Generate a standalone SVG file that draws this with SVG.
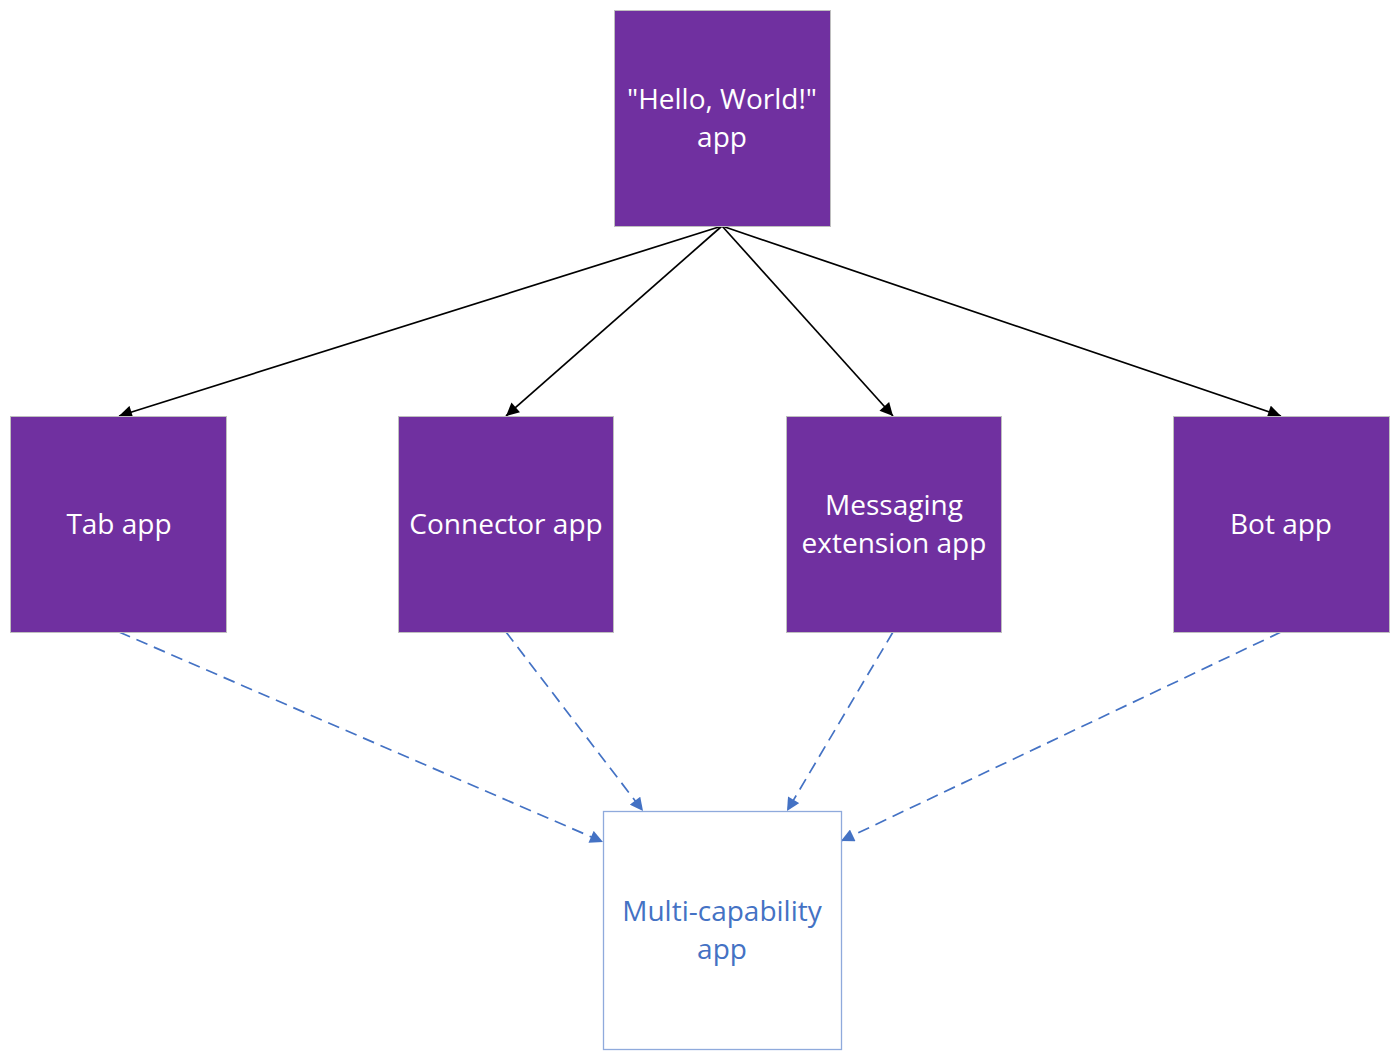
<svg xmlns="http://www.w3.org/2000/svg" width="1400" height="1060" viewBox="0 0 1400 1060">
<style>
.node{fill:#7030a0;stroke:#bfbfbf;stroke-width:1}
.lbl{font-family:"Open Sans","Liberation Sans",sans-serif;font-size:28px;fill:#ffffff;text-anchor:middle}
.blbl{font-family:"Open Sans","Liberation Sans",sans-serif;font-size:28px;fill:#4472c4;text-anchor:middle}
.solid{stroke:#000;stroke-width:1.7;fill:none;marker-end:url(#ah)}
.dash{stroke:#4472c4;stroke-width:1.7;fill:none;stroke-dasharray:12 7;marker-end:url(#bh)}
</style>
<defs>
<marker id="ah" viewBox="0 0 10 10" refX="10" refY="5" markerWidth="14" markerHeight="13" markerUnits="userSpaceOnUse" orient="auto"><path d="M0,0 L10,5 L0,10 z" fill="#000"/></marker>
<marker id="bh" viewBox="0 0 10 10" refX="10" refY="5" markerWidth="14" markerHeight="13" markerUnits="userSpaceOnUse" orient="auto"><path d="M0,0 L10,5 L0,10 z" fill="#4472c4"/></marker>
</defs>
<rect width="1400" height="1060" fill="#ffffff"/>
<g id="connectors">
<line class="solid" x1="722" y1="226" x2="119" y2="416"/>
<line class="solid" x1="722" y1="226" x2="506" y2="416"/>
<line class="solid" x1="722" y1="226" x2="893" y2="416"/>
<line class="solid" x1="722" y1="226" x2="1281" y2="416"/>
<line class="dash" x1="119" y1="632" x2="603" y2="842"/>
<line class="dash" x1="506" y1="632" x2="643" y2="811"/>
<line class="dash" x1="893" y1="632" x2="787" y2="811"/>
<line class="dash" x1="1281" y1="632" x2="841" y2="841"/>
</g>
<g id="hello">
<rect class="node" x="614.5" y="10.5" width="216" height="216"/>
<text class="lbl" x="722" y="109">"Hello, World!"</text>
<text class="lbl" x="722" y="147">app</text>
</g>
<g id="tab">
<rect class="node" x="10.5" y="416.5" width="216" height="216"/>
<text class="lbl" x="119" y="534">Tab app</text>
</g>
<g id="connector">
<rect class="node" x="398.5" y="416.5" width="215" height="216"/>
<text class="lbl" x="506" y="534">Connector app</text>
</g>
<g id="messaging">
<rect class="node" x="786.5" y="416.5" width="215" height="216"/>
<text class="lbl" x="894" y="515">Messaging</text>
<text class="lbl" x="894" y="553">extension app</text>
</g>
<g id="bot">
<rect class="node" x="1173.5" y="416.5" width="216" height="216"/>
<text class="lbl" x="1281" y="534">Bot app</text>
</g>
<g id="multi">
<rect x="603.5" y="811.5" width="238" height="238" fill="#ffffff" stroke="#8faadc" stroke-width="1.3"/>
<text class="blbl" x="722" y="921">Multi-capability</text>
<text class="blbl" x="722" y="959">app</text>
</g>
</svg>
